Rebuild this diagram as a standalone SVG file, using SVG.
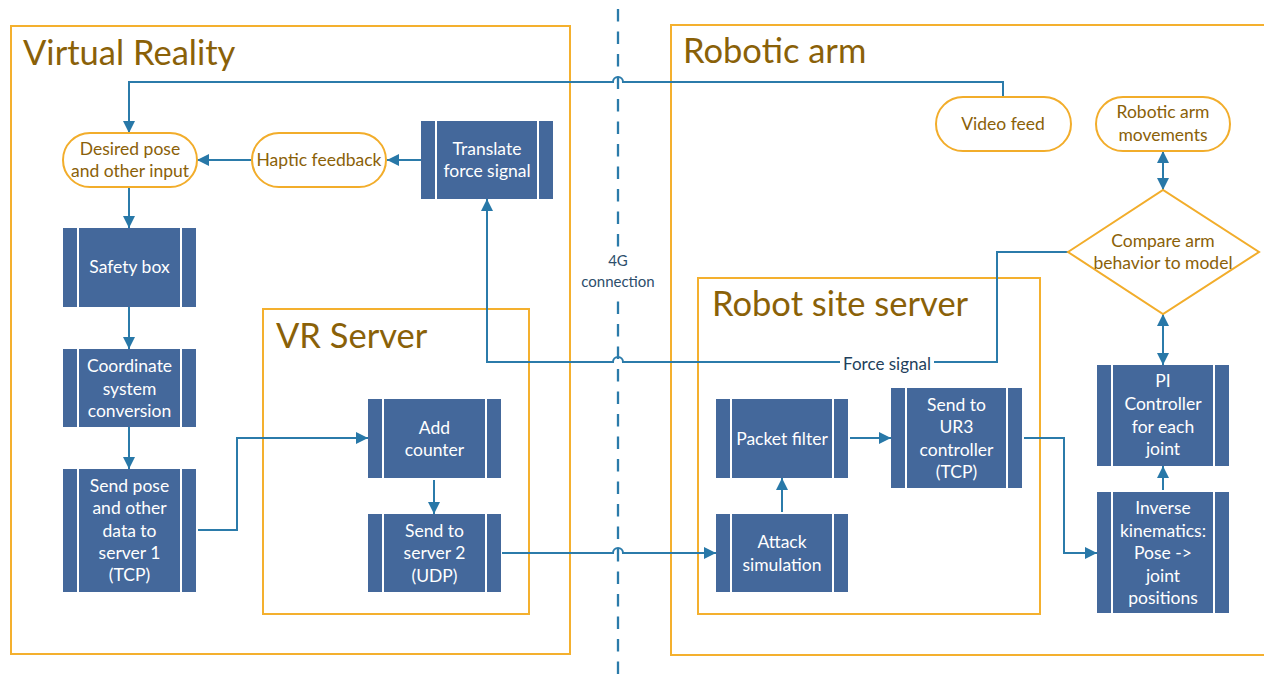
<svg xmlns="http://www.w3.org/2000/svg" width="1264" height="679" viewBox="0 0 1264 679">
<style>
.cont{fill:none;stroke:#F4B02E;stroke-width:2}
.title{font-family:Lato,"Liberation Sans",sans-serif;font-size:34.5px;fill:#8A6108}
.box{fill:#44689B}
.sep{stroke:#FFFFFF;stroke-width:2}
.wt{font-family:Lato,"Liberation Sans",sans-serif;font-size:17.5px;fill:#FFFFFF;text-anchor:middle}
.term{fill:#FFFFFF;stroke:#F2AD2B;stroke-width:2}
.bt{font-family:Lato,"Liberation Sans",sans-serif;font-size:17.5px;fill:#8A6108;text-anchor:middle}
.con{fill:none;stroke:#2B7BAA;stroke-width:2}
.lbl{font-family:Lato,"Liberation Sans",sans-serif;font-size:17px;fill:#223F5C;text-anchor:middle}
.lbl4g{font-family:Lato,"Liberation Sans",sans-serif;font-size:15px;fill:#2D4E6B;text-anchor:middle}
</style>
<defs>
<marker id="arr" markerUnits="userSpaceOnUse" markerWidth="12" markerHeight="12" refX="12" refY="6" orient="auto-start-reverse" viewBox="0 0 12 12">
<path d="M0,0 L12,6 L0,12 z" fill="#2878A8"/>
</marker>
</defs>
<rect width="1264" height="679" fill="#FFFFFF"/>

<g id="containers">
<g id="vr-container"><rect class="cont" x="11" y="26" width="559" height="628"/><text class="title" x="23" y="65">Virtual Reality</text></g>
<g id="arm-container"><rect class="cont" x="671" y="25" width="620" height="630"/><text class="title" x="683" y="63">Robotic arm</text></g>
<g id="vrserver-container"><rect class="cont" x="263" y="309" width="266" height="305"/><text class="title" x="276" y="348">VR Server</text></g>
<g id="robotserver-container"><rect class="cont" x="698" y="278" width="342" height="336"/><text class="title" x="712" y="316">Robot site server</text></g>
</g>

<g id="divider">
<line x1="618" y1="9" x2="618" y2="679" stroke="#2B7BAA" stroke-width="2.3" stroke-dasharray="12.5 10"/>
<rect x="580" y="254" width="76" height="40" fill="#FFFFFF"/>
<text class="lbl4g" x="618" y="266">4G</text>
<text class="lbl4g" x="618" y="287">connection</text>
</g>

<g id="connectors">
<path class="con" d="M1003,97 V82 H623 A5,5 0 0 0 613,82 H129 V133" marker-end="url(#arr)"/>
<path class="con" d="M252,160 H197" marker-end="url(#arr)"/>
<path class="con" d="M421,160 H387" marker-end="url(#arr)"/>
<path class="con" d="M1068,252 H997 V362 H623 A5,5 0 0 0 613,362 H487 V199" marker-end="url(#arr)"/>
<path class="con" d="M129,187 V228" marker-end="url(#arr)"/>
<path class="con" d="M129,307 V349" marker-end="url(#arr)"/>
<path class="con" d="M129,427 V469" marker-end="url(#arr)"/>
<path class="con" d="M198,530 H237 V438 H368" marker-end="url(#arr)"/>
<path class="con" d="M434,480 V514" marker-end="url(#arr)"/>
<path class="con" d="M502,553 H613 A5,5 0 0 1 623,553 H716" marker-end="url(#arr)"/>
<path class="con" d="M782,512 V478" marker-end="url(#arr)"/>
<path class="con" d="M850,438 H891" marker-end="url(#arr)"/>
<path class="con" d="M1024,438 H1064 V553 H1097" marker-end="url(#arr)"/>
<path class="con" d="M1163,490 V466" marker-end="url(#arr)"/>
<path class="con" d="M1163,314 V365" marker-start="url(#arr)" marker-end="url(#arr)"/>
<path class="con" d="M1163,151 V190" marker-start="url(#arr)" marker-end="url(#arr)"/>
<rect x="840" y="353" width="94" height="20" fill="#FFFFFF"/>
<text class="lbl" x="887" y="370">Force signal</text>
</g>

<g id="desired-pose"><rect class="term" x="63" y="133" width="134" height="54" rx="27"/><text class="bt" x="130" y="155">Desired pose</text><text class="bt" x="130" y="177">and other input</text></g>
<g id="haptic-feedback"><rect class="term" x="252" y="133" width="134" height="54" rx="27"/><text class="bt" x="319" y="166">Haptic feedback</text></g>
<g id="video-feed"><rect class="term" x="936" y="97" width="135" height="54" rx="27"/><text class="bt" x="1003" y="130">Video feed</text></g>
<g id="arm-movements"><rect class="term" x="1096" y="97" width="134" height="54" rx="27"/><text class="bt" x="1163" y="118">Robotic arm</text><text class="bt" x="1163" y="141">movements</text></g>
<g id="compare"><polygon class="term" points="1068,252 1163,190 1259,252 1163,314"/><text class="bt" x="1163" y="247">Compare arm</text><text class="bt" x="1163" y="269">behavior to model</text></g>

<g id="translate-force"><rect class="box" x="421" y="121" width="132" height="78"/><line class="sep" x1="436" y1="121" x2="436" y2="199"/><line class="sep" x1="538" y1="121" x2="538" y2="199"/><text class="wt" x="487" y="155">Translate</text><text class="wt" x="487" y="177">force signal</text></g>
<g id="safety-box"><rect class="box" x="63" y="228" width="133" height="79"/><line class="sep" x1="78" y1="228" x2="78" y2="307"/><line class="sep" x1="181" y1="228" x2="181" y2="307"/><text class="wt" x="129.5" y="273">Safety box</text></g>
<g id="coordinate"><rect class="box" x="63" y="349" width="133" height="78"/><line class="sep" x1="78" y1="349" x2="78" y2="427"/><line class="sep" x1="181" y1="349" x2="181" y2="427"/><text class="wt" x="129.5" y="372">Coordinate</text><text class="wt" x="129.5" y="395">system</text><text class="wt" x="129.5" y="417">conversion</text></g>
<g id="send-pose"><rect class="box" x="63" y="469" width="133" height="123"/><line class="sep" x1="78" y1="469" x2="78" y2="592"/><line class="sep" x1="181" y1="469" x2="181" y2="592"/><text class="wt" x="129.5" y="492">Send pose</text><text class="wt" x="129.5" y="514">and other</text><text class="wt" x="129.5" y="537">data to</text><text class="wt" x="129.5" y="559">server 1</text><text class="wt" x="129.5" y="581">(TCP)</text></g>
<g id="add-counter"><rect class="box" x="368" y="399" width="133" height="79"/><line class="sep" x1="383" y1="399" x2="383" y2="478"/><line class="sep" x1="486" y1="399" x2="486" y2="478"/><text class="wt" x="434.5" y="434">Add</text><text class="wt" x="434.5" y="456">counter</text></g>
<g id="send-server2"><rect class="box" x="368" y="514" width="133" height="78"/><line class="sep" x1="383" y1="514" x2="383" y2="592"/><line class="sep" x1="486" y1="514" x2="486" y2="592"/><text class="wt" x="434.5" y="537">Send to</text><text class="wt" x="434.5" y="559">server 2</text><text class="wt" x="434.5" y="582">(UDP)</text></g>
<g id="packet-filter"><rect class="box" x="716" y="399" width="132" height="79"/><line class="sep" x1="731" y1="399" x2="731" y2="478"/><line class="sep" x1="833" y1="399" x2="833" y2="478"/><text class="wt" x="782" y="445">Packet filter</text></g>
<g id="attack-sim"><rect class="box" x="716" y="514" width="132" height="78"/><line class="sep" x1="731" y1="514" x2="731" y2="592"/><line class="sep" x1="833" y1="514" x2="833" y2="592"/><text class="wt" x="782" y="548">Attack</text><text class="wt" x="782" y="571">simulation</text></g>
<g id="send-ur3"><rect class="box" x="891" y="388" width="131" height="100"/><line class="sep" x1="906" y1="388" x2="906" y2="488"/><line class="sep" x1="1007" y1="388" x2="1007" y2="488"/><text class="wt" x="956.5" y="411">Send to</text><text class="wt" x="956.5" y="433">UR3</text><text class="wt" x="956.5" y="456">controller</text><text class="wt" x="956.5" y="478">(TCP)</text></g>
<g id="pi-controller"><rect class="box" x="1097" y="365" width="132" height="101"/><line class="sep" x1="1112" y1="365" x2="1112" y2="466"/><line class="sep" x1="1214" y1="365" x2="1214" y2="466"/><text class="wt" x="1163" y="387">PI</text><text class="wt" x="1163" y="410">Controller</text><text class="wt" x="1163" y="433">for each</text><text class="wt" x="1163" y="455">joint</text></g>
<g id="inverse-kinematics"><rect class="box" x="1097" y="492" width="132" height="121"/><line class="sep" x1="1112" y1="492" x2="1112" y2="613"/><line class="sep" x1="1214" y1="492" x2="1214" y2="613"/><text class="wt" x="1163" y="514">Inverse</text><text class="wt" x="1163" y="537">kinematics:</text><text class="wt" x="1163" y="559">Pose -&gt;</text><text class="wt" x="1163" y="582">joint</text><text class="wt" x="1163" y="604">positions</text></g>
</svg>
